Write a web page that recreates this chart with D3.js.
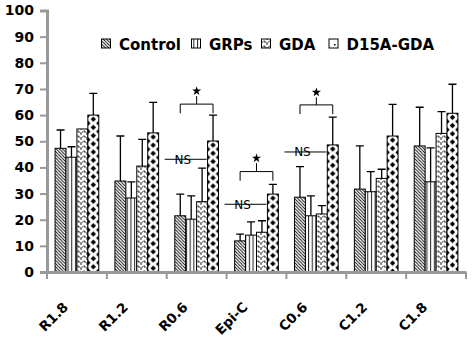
<!DOCTYPE html>
<html>
<head>
<meta charset="utf-8">
<script src="https://cdn.jsdelivr.net/npm/d3@7"></script>
<style>
  html, body { margin: 0; padding: 0; background: #fff; }
  svg { display: block; }
</style>
</head>
<body>
<svg id="chart" width="473" height="340"></svg>
<script>
// ---- data ----
const categories = ["R1.8", "R1.2", "R0.6", "Epi-C", "C0.6", "C1.2", "C1.8"];
const seriesNames = ["Control", "GRPs", "GDA", "D15A-GDA"];
const control    = [47.3, 34.8, 21.5, 11.9, 28.6, 31.7, 48.2];
const controlErr = [7.0, 17.2, 8.3, 2.6, 11.7, 16.5, 14.8];
const grps       = [43.9, 28.3, 20.2, 14.1, 21.5, 30.7, 34.5];
const grpsErr    = [4.0, 6.2, 8.9, 5.1, 7.6, 7.7, 13.0];
const gda        = [54.7, 40.5, 26.9, 15.2, 22.2, 35.8, 53.0];
const gdaErr     = [0, 10.2, 12.8, 4.4, 3.2, 3.5, 8.3];
const d15a       = [60.0, 53.2, 50.1, 29.8, 48.6, 52.0, 60.7];
const d15aErr    = [8.3, 11.7, 9.9, 3.7, 10.6, 12.1, 11.1];
const yTicks     = [0, 10, 20, 30, 40, 50, 60, 70, 80, 90, 100];
// significance annotations
const sigCats    = ["R0.6", "Epi-C", "C0.6"];
const bracketY   = [64.2, 38.4, 63.9];
const legY       = [60.7, 34.9, 60.4];
const starY      = [69.2, 43.5, 68.7];
const nsY        = [43.1, 25.9, 45.9];
const nsLabel    = "NS";

const values = [control, grps, gda, d15a];
const errors = [controlErr, grpsErr, gdaErr, d15aErr];

const svg = d3.select("#chart");
const axisColor = "#999999";

const x = d3.scaleBand().domain(categories).range([47, 466]).padding(0);
const sub = d3.scaleBand().domain(seriesNames)
  .range([x.bandwidth() * 0.135, x.bandwidth() * 0.865]).padding(0);
const y = d3.scaleLinear().domain([0, 100]).range([272, 10.5]);

// ---- patterns ----
const defs = svg.append("defs");
// Control: diagonal "\" lines
const p0 = defs.append("pattern").attr("id", "pat0").attr("patternUnits", "userSpaceOnUse")
  .attr("width", 3.2).attr("height", 3.2);
p0.append("rect").attr("width", 3.2).attr("height", 3.2).attr("fill", "#fff");
p0.append("path").attr("d", "M-1,-1 L4.2,4.2 M-1,2.2 L1,4.2 M2.2,-1 L4.2,1")
  .attr("stroke", "#000").attr("stroke-width", 0.9);
// GRPs: vertical lines
const p1 = defs.append("pattern").attr("id", "pat1").attr("patternUnits", "userSpaceOnUse")
  .attr("width", 3.7).attr("height", 4);
p1.append("rect").attr("width", 3.7).attr("height", 4).attr("fill", "#fff");
p1.append("path").attr("d", "M1.5,0 L1.5,4").attr("stroke", "#000").attr("stroke-width", 0.9);
// GDA: zigzag
const p2 = defs.append("pattern").attr("id", "pat2").attr("patternUnits", "userSpaceOnUse")
  .attr("width", 6).attr("height", 5);
p2.append("rect").attr("width", 6).attr("height", 5).attr("fill", "#fff");
p2.append("path").attr("d", "M0,0.5 L3,3.5 L6,0.5 M0,0.5 L0,3 M3,3.5 L3,5")
  .attr("stroke", "#000").attr("stroke-width", 0.8).attr("fill", "none");

// ---- axes ----
const gy = svg.append("g").attr("transform", "translate(47,0)")
  .call(d3.axisLeft(y).tickValues(yTicks).tickSize(7).tickPadding(6));
gy.select(".domain").attr("stroke", axisColor).attr("stroke-width", 3);
gy.selectAll(".tick line").attr("stroke", axisColor).attr("stroke-width", 2);
gy.selectAll(".tick text").attr("fill", "#000")
  .style("font-family", "DejaVu Sans").style("font-weight", "bold").style("font-size", "14px");

// ---- bars ----
const plot = svg.append("g");
seriesNames.forEach((s, si) => {
  categories.forEach((c, ci) => {
    const bx = x(c) + sub(s);
    const bw = sub.bandwidth();
    const v = values[si][ci];
    let fill = `url(#pat${si})`;
    if (si === 3) {
      const pid = `pat3-${ci}`;
      const ph = 8.2;
      const p = defs.append("pattern").attr("id", pid).attr("patternUnits", "userSpaceOnUse")
        .attr("x", bx).attr("y", y(v)).attr("width", bw).attr("height", ph);
      p.append("rect").attr("width", bw).attr("height", ph).attr("fill", "#fff");
      const r = 2.7;
      const cx = bw / 2, cy = ph / 2;
      p.append("path").attr("fill", "#000").attr("d",
        `M${cx},${cy - r} L${cx + r},${cy} L${cx},${cy + r} L${cx - r},${cy} Z` +
        `M0,${-r} L${r},0 L0,${r} L${-r},0 Z` +
        `M${bw},${-r} L${bw + r},0 L${bw},${r} L${bw - r},0 Z` +
        `M0,${ph - r} L${r},${ph} L0,${ph + r} L${-r},${ph} Z` +
        `M${bw},${ph - r} L${bw + r},${ph} L${bw},${ph + r} L${bw - r},${ph} Z`);
      fill = `url(#${pid})`;
    }
    plot.append("rect")
      .attr("x", bx).attr("y", y(v))
      .attr("width", bw).attr("height", y(0) - y(v))
      .attr("fill", fill).attr("stroke", "#000").attr("stroke-width", 1);
    const e = errors[si][ci];
    if (e > 0) {
      const ex = bx + bw / 2;
      plot.append("path")
        .attr("d", `M${ex},${y(v)} L${ex},${y(v + e)} M${ex - 4},${y(v + e)} L${ex + 4},${y(v + e)}`)
        .attr("stroke", "#000").attr("stroke-width", 1.3).attr("fill", "none");
    }
  });
});

// x axis (drawn after bars)
const gx = svg.append("g").attr("transform", "translate(0,272)")
  .call(d3.axisBottom(x).tickSize(0).tickFormat(""));
gx.select(".domain").attr("stroke", axisColor).attr("stroke-width", 3);
gx.selectAll(".tick").remove();
const bounds = categories.map(c => x(c)).concat([x(categories[categories.length - 1]) + x.bandwidth()]);
gx.selectAll(".sep").data(bounds).enter().append("line").attr("class", "sep")
  .attr("x1", d => d).attr("x2", d => d).attr("y1", 0).attr("y2", 7)
  .attr("stroke", axisColor).attr("stroke-width", 2);
svg.append("g").selectAll("text").data(categories).enter().append("text")
  .attr("transform", d => `translate(${x(d) + x.bandwidth() / 2 - 8},308) rotate(-45)`)
  .attr("text-anchor", "end")
  .style("font-family", "DejaVu Sans").style("font-weight", "bold").style("font-size", "13.5px")
  .text(d => d);

// ---- significance annotations ----
const ann = svg.append("g");
sigCats.forEach((c, i) => {
  const left = x(c) + sub("Control") + sub.bandwidth() / 2;
  const right = x(c) + sub("D15A-GDA") + sub.bandwidth() / 2;
  const mid = (left + right) / 2;
  ann.append("path")
    .attr("d", `M${left},${y(legY[i])} L${left},${y(bracketY[i])} L${right},${y(bracketY[i])} L${right},${y(legY[i])}` +
      ` M${mid},${y(bracketY[i])} L${mid},${y(starY[i]) + 5}`)
    .attr("stroke", "#000").attr("stroke-width", 1).attr("fill", "none");
  ann.append("path")
    .attr("transform", `translate(${mid},${y(starY[i])})`)
    .attr("d", d3.symbol(d3.symbolStar, 26)())
    .attr("fill", "#000");
  const nsL = x(c) - 2;
  const nsR = x(c) + sub("D15A-GDA") - 1;
  ann.append("line")
    .attr("x1", nsL).attr("x2", nsR).attr("y1", y(nsY[i])).attr("y2", y(nsY[i]))
    .attr("stroke", "#000").attr("stroke-width", 1);
  ann.append("text")
    .attr("x", nsL + 18).attr("y", y(nsY[i]) + 4.3)
    .attr("text-anchor", "middle")
    .style("font-family", "DejaVu Sans").style("font-size", "12px")
    .text(nsLabel);
});

// ---- legend ----
const legendX = [101.5, 191.5, 261.5, 329];
const legend = svg.append("g");
seriesNames.forEach((s, i) => {
  let fill = `url(#pat${i})`;
  if (i === 3) {
    const p = defs.append("pattern").attr("id", "patleg3").attr("patternUnits", "userSpaceOnUse")
      .attr("x", legendX[i]).attr("y", 39).attr("width", 9).attr("height", 9);
    p.append("rect").attr("width", 9).attr("height", 9).attr("fill", "#fff");
    p.append("rect").attr("x", 5).attr("y", 5).attr("width", 1.5).attr("height", 1.5).attr("fill", "#000");
    fill = "url(#patleg3)";
  }
  legend.append("rect").attr("x", legendX[i]).attr("y", 39).attr("width", 9).attr("height", 9)
    .attr("fill", fill).attr("stroke", "#000").attr("stroke-width", 1);
  legend.append("text").attr("x", legendX[i] + 17.5).attr("y", 49.5)
    .style("font-family", "DejaVu Sans").style("font-weight", "bold").style("font-size", "15px")
    .text(s);
});
</script>
</body>
</html>
